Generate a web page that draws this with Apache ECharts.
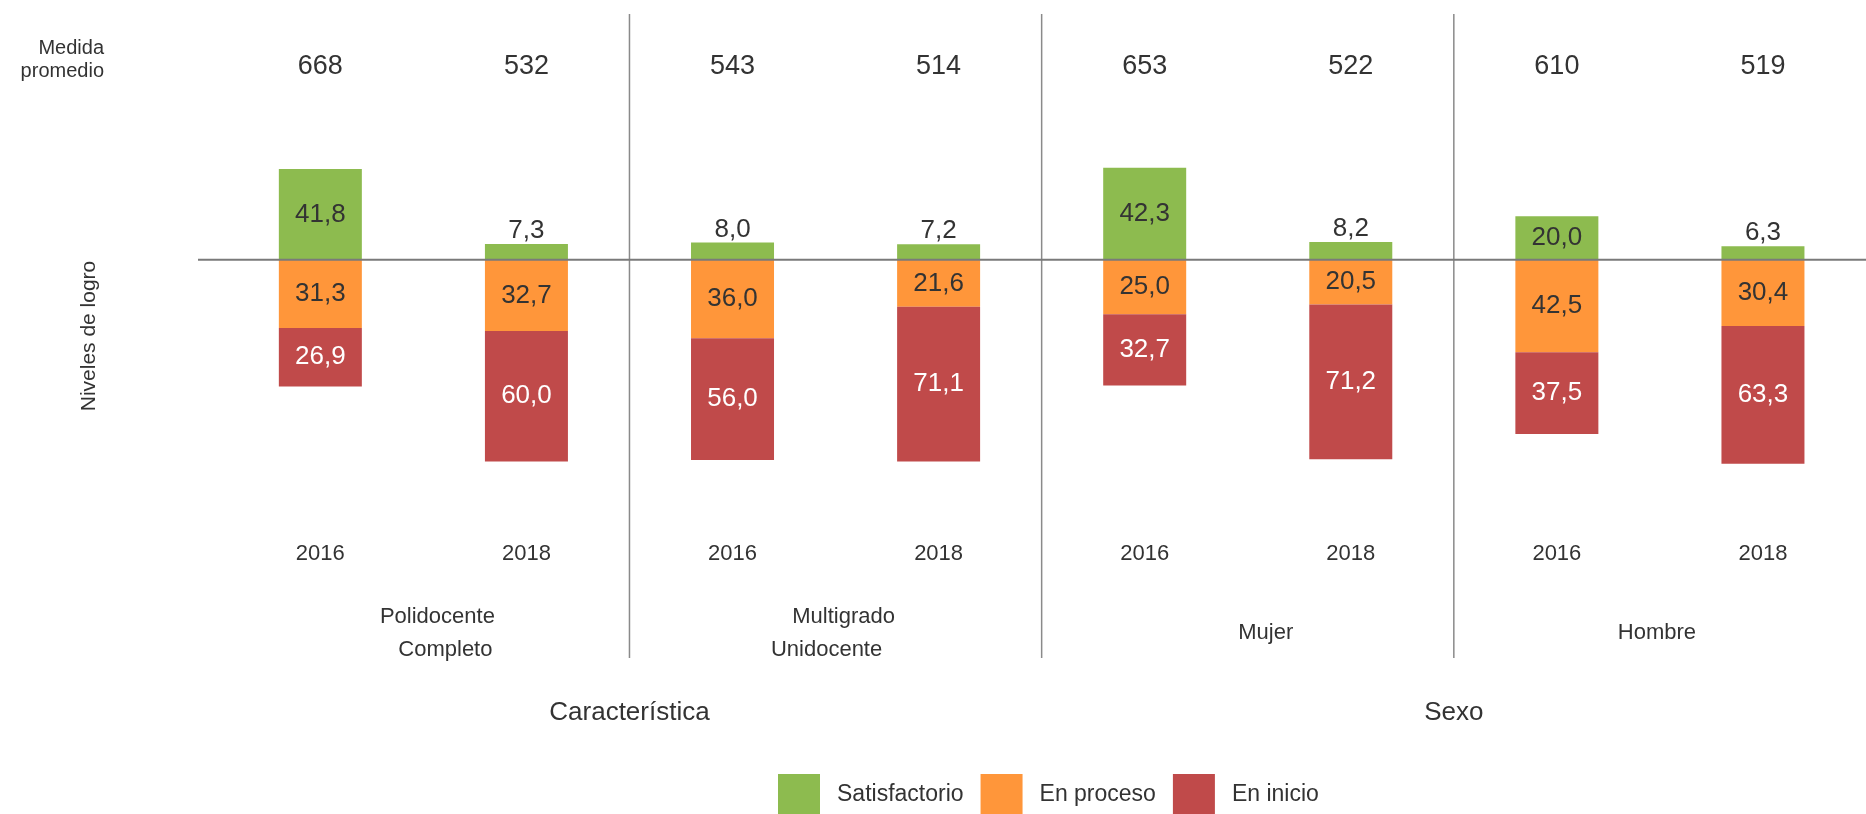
<!DOCTYPE html>
<html>
<head>
<meta charset="utf-8">
<script src="https://cdn.jsdelivr.net/npm/echarts@6/dist/echarts.min.js"></script>
<style>
html,body{margin:0;padding:0;background:#fff;}
#chart{width:1866px;height:814px;}
</style>
</head>
<body>
<div id="chart"></div>
<script>
const years = ['2016','2018','2016','2018','2016','2018','2016','2018'];
const means = ['668','532','543','514','653','522','610','519'];
const groups = ['Polidocente\nCompleto','Multigrado\nUnidocente','Mujer','Hombre'];
const superGroups = ['Característica','Sexo'];
const satisfactorio = [41.8, 7.3, 8.0, 7.2, 42.3, 8.2, 20.0, 6.3];
const enProceso = [31.3, 32.7, 36.0, 21.6, 25.0, 20.5, 42.5, 30.4];
const enInicio = [26.9, 60.0, 56.0, 71.1, 32.7, 71.2, 37.5, 63.3];

const FONT = '"Liberation Sans", Arial, sans-serif';
const TXT = '#333333';
const GREEN = '#8DBB4F', ORANGE = '#FF963A', RED = '#C04A4A';
const Y_MIN = -183, Y_MAX = 113;
const fmt = v => Math.abs(v).toFixed(1).replace('.', ',');

// small per-line nudges so group labels sit as in the original layout
const lineStyleKey = {'Polidocente':'p1','Completo':'p2','Multigrado':'m1','Unidocente':'m2','Mujer':'mu','Hombre':'h'};
const base = {fontSize:22, lineHeight:33, color:TXT, fontFamily:FONT};
const rich = {
  p1: Object.assign({padding:[0,0,0,28]}, base),
  p2: Object.assign({padding:[0,0,0,44]}, base),
  m1: Object.assign({padding:[0,0,0,16]}, base),
  m2: Object.assign({padding:[0,18,0,0]}, base),
  mu: Object.assign({padding:[0,0,0,36]}, base),
  h:  Object.assign({padding:[0,6,0,0]}, base)
};

const chart = echarts.init(document.getElementById('chart'));
const hiddenAxis = {axisLine:{show:false}, axisTick:{show:false}, splitLine:{show:false}};

const option = {
  animation: false,
  backgroundColor: '#fff',
  textStyle: {fontFamily: FONT, color: TXT},
  grid: {left: 217.3, top: 14, width: 1651, height: 644},
  legend: {
    left: 778, top: 774, itemWidth: 42, itemHeight: 42, itemGap: 17, padding: 0,
    icon: 'rect',
    textStyle: {fontSize: 23, color: TXT, fontFamily: FONT, padding: [0,0,0,12]},
    data: ['Satisfactorio','En proceso','En inicio']
  },
  xAxis: [
    Object.assign({type:'category', data: years, position:'bottom', offset: -104,
      axisLabel:{margin:0, verticalAlign:'middle', fontSize:22, color:TXT, fontFamily:FONT, interval:0}}, hiddenAxis),
    Object.assign({type:'category', data: groups, position:'bottom', offset: -25,
      axisLabel:{margin:0, verticalAlign:'middle', fontSize:22, lineHeight:33, color:TXT, fontFamily:FONT, interval:0,
        rich: rich,
        formatter: v => v.split('\n').map(s => '{' + lineStyleKey[s] + '|' + s + '}').join('\n')}}, hiddenAxis),
    Object.assign({type:'category', data: superGroups, position:'bottom', offset: 55,
      axisLabel:{margin:0, verticalAlign:'middle', fontSize:26, color:TXT, fontFamily:FONT, interval:0}}, hiddenAxis),
    Object.assign({type:'category', data: means, position:'top', offset: -53,
      axisLabel:{margin:0, verticalAlign:'middle', fontSize:27, color:TXT, fontFamily:FONT, interval:0}}, hiddenAxis)
  ],
  yAxis: {
    type:'value', min:Y_MIN, max:Y_MAX,
    name:'Niveles de logro', nameLocation:'middle', nameRotate:90, nameGap:118,
    nameTextStyle:{fontSize:21, color:TXT, fontFamily:FONT},
    axisLine:{show:false}, axisTick:{show:false}, axisLabel:{show:false}, splitLine:{show:false}
  },
  series: [
    {name:'Satisfactorio', type:'bar', stack:'a', barWidth:83, xAxisIndex:0,
     itemStyle:{color:GREEN},
     data: satisfactorio.map(v => ({value: v, label: {position: v > 15 ? 'inside' : 'top', distance: 0}})),
     label:{show:true, fontSize:26, color:TXT, fontFamily:FONT, formatter:p=>fmt(p.value)}},
    {name:'En proceso', type:'bar', stack:'a', barWidth:83, xAxisIndex:0,
     itemStyle:{color:ORANGE},
     data: enProceso.map(v => -v),
     label:{show:true, position:'inside', fontSize:26, color:TXT, fontFamily:FONT, formatter:p=>fmt(p.value)}},
    {name:'En inicio', type:'bar', stack:'a', barWidth:83, xAxisIndex:0,
     itemStyle:{color:RED},
     data: enInicio.map(v => -v),
     label:{show:true, position:'inside', fontSize:26, color:'#ffffff', fontFamily:FONT, formatter:p=>fmt(p.value)}}
  ]
};
chart.setOption(option);

// decorations derived from the axes: zero line, group separators, header text
const y0 = chart.convertToPixel({yAxisIndex:0}, 0);
const yTop = chart.convertToPixel({yAxisIndex:0}, Y_MAX);
const yBot = chart.convertToPixel({yAxisIndex:0}, Y_MIN);
const cx = i => chart.convertToPixel({xAxisIndex:0}, i);
const graphics = [{type:'line', z:100, silent:true,
  shape:{x1:198, y1:y0, x2:1866, y2:y0}, style:{stroke:'#7a7a7a', lineWidth:2}}];
for (let g = 1; g < groups.length; g++) {
  const x = (cx(2*g - 1) + cx(2*g)) / 2;
  graphics.push({type:'line', z:1, silent:true,
    shape:{x1:x, y1:yTop, x2:x, y2:yBot}, style:{stroke:'#8a8a8a', lineWidth:1.5}});
}
graphics.push({type:'text', silent:true, x:104, y:60,
  style:{text:'Medida\npromedio', align:'right', verticalAlign:'middle', fontSize:20, lineHeight:23, fill:TXT, fontFamily:FONT}});
chart.setOption({graphic: graphics});
</script>
</body>
</html>
